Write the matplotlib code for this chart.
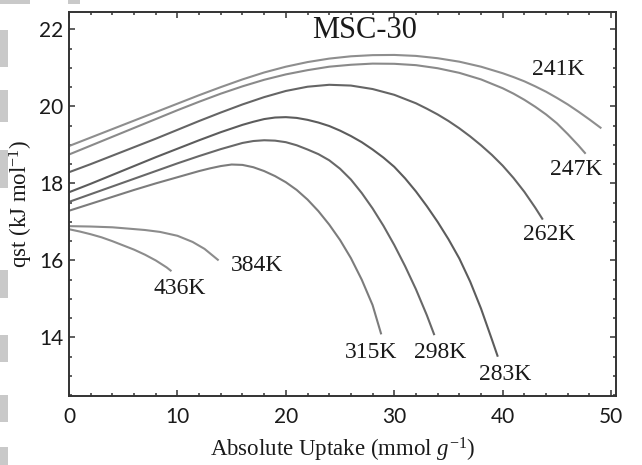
import matplotlib
matplotlib.use("Agg")
import matplotlib.pyplot as plt
from matplotlib.ticker import MultipleLocator
from matplotlib.patches import Rectangle

# ---- data ----
x_241 = [0, 2, 4, 6, 8, 10, 12, 14, 16, 18, 20, 22, 24, 26, 28, 30, 32, 34, 36, 38, 40,
         41, 42, 43, 44, 45, 46, 47, 48, 49.1]
y_241 = [18.97, 19.19, 19.41, 19.63, 19.85, 20.07, 20.29, 20.50, 20.70, 20.88, 21.03, 21.15, 21.24, 21.30,
         21.33, 21.335, 21.31, 21.25, 21.16, 21.03, 20.86, 20.76, 20.65, 20.52, 20.38, 20.22, 20.05, 19.86,
         19.66, 19.43]

x_247 = [0, 2, 4, 6, 8, 10, 12, 14, 16, 18, 20, 22, 24, 26, 28, 30, 32, 34, 36, 38, 40,
         41, 42, 43, 44, 45, 46, 47, 47.65]
y_247 = [18.75, 18.98, 19.21, 19.44, 19.67, 19.9, 20.12, 20.33, 20.52, 20.69, 20.83, 20.94, 21.03, 21.08,
         21.11, 21.105, 21.07, 20.99, 20.87, 20.70, 20.47, 20.33, 20.17, 19.99, 19.79, 19.56, 19.28, 18.98,
         18.77]

x_262 = [0, 2, 4, 6, 8, 10, 12, 14, 16, 18, 20, 22, 24, 26, 28, 30, 32,
         33, 34, 35, 36, 37, 38, 39, 40, 41, 42, 43, 43.7]
y_262 = [18.29, 18.5, 18.72, 18.94, 19.16, 19.39, 19.62, 19.84, 20.05, 20.24, 20.40, 20.51, 20.56, 20.54,
         20.45, 20.30, 20.08, 19.94, 19.79, 19.62, 19.43, 19.22, 18.99, 18.74, 18.46, 18.14, 17.78, 17.37,
         17.06]

x_283 = [0, 2, 4, 6, 8, 10, 12, 14, 16, 17, 18, 19, 20, 21, 22, 23, 24, 25, 26, 27, 28, 29, 30,
         31, 32, 33, 34, 35, 36, 37, 38, 39, 39.55]
y_283 = [17.77, 17.99, 18.22, 18.45, 18.68, 18.9, 19.12, 19.33, 19.52, 19.60, 19.67, 19.71, 19.72, 19.70,
         19.65, 19.58, 19.49, 19.37, 19.23, 19.07, 18.88, 18.67, 18.43, 18.13, 17.79, 17.41, 17.00, 16.55,
         16.05, 15.45, 14.75, 13.95, 13.5]

x_298 = [0, 2, 4, 6, 8, 10, 12, 13, 14, 15, 16, 17, 18, 19, 20, 21, 22, 23, 24, 25, 26, 27, 28,
         29, 30, 31, 32, 33, 33.7]
y_298 = [17.52, 17.72, 17.92, 18.12, 18.32, 18.52, 18.71, 18.80, 18.89, 18.97, 19.05, 19.10, 19.12, 19.11,
         19.07, 18.99, 18.88, 18.76, 18.60, 18.38, 18.10, 17.75, 17.35, 16.90, 16.40, 15.85, 15.25, 14.58,
         14.06]

x_315 = [0, 2, 4, 6, 8, 10, 11, 12, 13, 14, 15, 16, 17, 18, 19, 20, 21, 22, 23, 24, 25, 26, 27,
         28, 28.8]
y_315 = [17.29, 17.47, 17.65, 17.83, 18.0, 18.16, 18.24, 18.32, 18.39, 18.45, 18.49, 18.48, 18.42, 18.32,
         18.19, 18.03, 17.83, 17.58, 17.28, 16.93, 16.53, 16.06, 15.50, 14.84, 14.08]

x_384 = [0, 2, 4, 5.3, 7, 8.4, 10, 11.4, 12.5, 13.8]
y_384 = [16.89, 16.88, 16.86, 16.83, 16.79, 16.74, 16.64, 16.48, 16.3, 16.0]

x_436 = [0, 1, 2, 3, 4, 5, 6, 7, 8, 9, 9.45]
y_436 = [16.81, 16.75, 16.68, 16.6, 16.5, 16.39, 16.28, 16.15, 16.0, 15.82, 15.72]

labels = ["241K", "247K", "262K", "283K", "298K", "315K", "384K", "436K"]
label_x = [45.1, 46.8, 44.3, 40.2, 34.2, 27.9, 17.3, 10.2]
label_y = [20.97, 18.35, 16.68, 13.05, 13.62, 13.62, 15.88, 15.28]

series_x = [x_241, x_247, x_262, x_283, x_298, x_315, x_384, x_436]
series_y = [y_241, y_247, y_262, y_283, y_298, y_315, y_384, y_436]
colors = ["#8e8e8e", "#8a8a8a", "#656565", "#5c5c5c", "#686868", "#7c7c7c", "#8c8c8c", "#8c8c8c"]

xticks = [0, 10, 20, 30, 40, 50]
yticks = [14, 16, 18, 20, 22]

plt.rcParams["mathtext.fontset"] = "custom"
plt.rcParams["mathtext.rm"] = "Liberation Serif"
plt.rcParams["mathtext.it"] = "Liberation Serif:italic"

fig = plt.figure(figsize=(6.42, 4.65), dpi=100)
ax = fig.add_axes([69 / 642, 1 - 396 / 465, (616 - 69) / 642, (396 - 12) / 465])

for xs, ys, c in zip(series_x, series_y, colors):
    ax.plot(xs, ys, color=c, lw=1.5, solid_joinstyle="round", solid_capstyle="butt")

for t, lx, ly in zip(labels, label_x, label_y):
    ax.text(lx, ly, t, ha="center", va="center", fontsize=17, family="Liberation Serif", color="#1a1a1a")

ax.text(27.3, 21.96, "MSC-30", ha="center", va="center", fontsize=22, family="Liberation Serif", color="#1a1a1a")

ax.set_xlim(0, 50.45)
ax.set_ylim(12.48, 22.45)
ax.set_xticks(xticks)
ax.set_yticks(yticks)
ax.xaxis.set_minor_locator(MultipleLocator(2))
ax.yaxis.set_minor_locator(MultipleLocator(0.5))
ax.tick_params(which="both", direction="in", top=True, right=True, color="#333333", width=1.1)
ax.tick_params(which="major", length=4.5)
ax.tick_params(which="minor", length=2.5)
ax.tick_params(axis="x", which="major", pad=8)
ax.tick_params(axis="y", which="major", pad=4)
for lab in ax.get_xticklabels() + ax.get_yticklabels():
    lab.set_fontfamily("Lato")
    lab.set_fontsize(15)
    lab.set_color("#1a1a1a")
for s in ax.spines.values():
    s.set_linewidth(1.4)
    s.set_color("#333333")

ax.set_xlabel(r"Absolute Uptake (mmol $g^{-1}$)", family="Liberation Serif", fontsize=16.5, color="#1a1a1a", labelpad=6)
ax.set_ylabel(r"qst (kJ mol$^{-1}$)", family="Liberation Serif", fontsize=16.5, color="#1a1a1a", labelpad=3)

# scan artefacts on the left edge
for y0, y1 in [(30, 67), (90, 122), (150, 188), (270, 298), (335, 362), (395, 422), (447, 465)]:
    fig.patches.append(Rectangle((0, 1 - y1 / 465), 8 / 642, (y1 - y0) / 465, transform=fig.transFigure,
                                 color="#c9c9c9", lw=0))
fig.patches.append(Rectangle((0, 1 - 4 / 465), 30 / 642, 4 / 465, transform=fig.transFigure, color="#c9c9c9", lw=0))
fig.patches.append(Rectangle((68 / 642, 1 - 4 / 465), 12 / 642, 4 / 465, transform=fig.transFigure, color="#c9c9c9", lw=0))

fig.savefig("out.png", dpi=100)
